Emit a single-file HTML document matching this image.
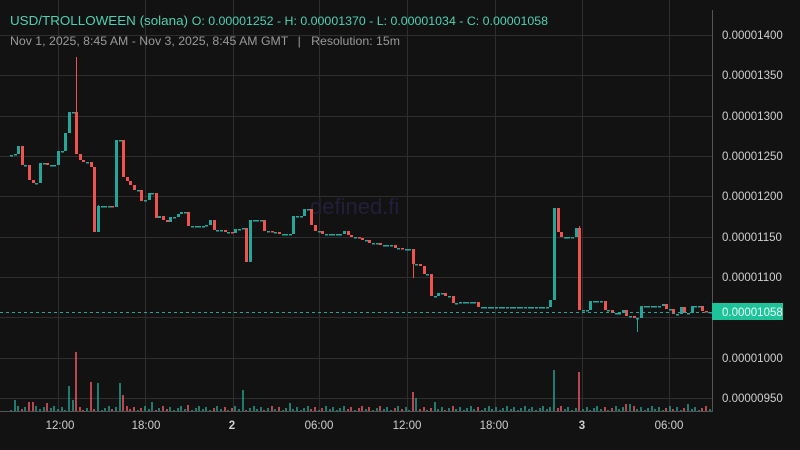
<!DOCTYPE html>
<html><head><meta charset="utf-8"><style>
body{margin:0;background:#121212;width:800px;height:450px;overflow:hidden;font-family:"Liberation Sans",sans-serif}
svg{display:block}
</style></head><body>
<svg id="s" width="800" height="450" xmlns="http://www.w3.org/2000/svg">
<rect width="800" height="450" fill="#121212"/>
<g stroke="#2e2e2e" stroke-width="1">
<line x1="0" y1="35.5" x2="712" y2="35.5"/><line x1="0" y1="75.5" x2="712" y2="75.5"/><line x1="0" y1="116.5" x2="712" y2="116.5"/><line x1="0" y1="156.5" x2="712" y2="156.5"/><line x1="0" y1="196.5" x2="712" y2="196.5"/><line x1="0" y1="237.5" x2="712" y2="237.5"/><line x1="0" y1="277.5" x2="712" y2="277.5"/><line x1="0" y1="317.5" x2="712" y2="317.5"/><line x1="0" y1="358.5" x2="712" y2="358.5"/><line x1="0" y1="398.5" x2="712" y2="398.5"/>
<line x1="58.5" y1="0" x2="58.5" y2="412"/><line x1="145.5" y1="0" x2="145.5" y2="412"/><line x1="233.5" y1="0" x2="233.5" y2="412"/><line x1="319.5" y1="0" x2="319.5" y2="412"/><line x1="407.5" y1="0" x2="407.5" y2="412"/><line x1="495.5" y1="0" x2="495.5" y2="412"/><line x1="582.5" y1="0" x2="582.5" y2="412"/><line x1="669.5" y1="0" x2="669.5" y2="412"/>
</g>
<line x1="712.5" y1="10" x2="712.5" y2="412" stroke="#555"/>
<line x1="0" y1="411.5" x2="712" y2="411.5" stroke="#555"/>
<text x="310" y="214" font-size="22" fill="#221f3a">defined.fi</text>
<g id="c"></g>
<line x1="0" y1="312.5" x2="712" y2="312.5" stroke="#26a69a" stroke-dasharray="3,3"/>
<g font-size="11.5" fill="#cfcfcf">
<text x="722" y="39">0.00001400</text><text x="722" y="79">0.00001350</text><text x="722" y="120">0.00001300</text><text x="722" y="160">0.00001250</text><text x="722" y="200">0.00001200</text><text x="722" y="241">0.00001150</text><text x="722" y="281">0.00001100</text><text x="722" y="362">0.00001000</text><text x="722" y="402">0.00000950</text>
</g>
<rect x="712" y="303" width="71" height="17" fill="#1fc39a"/>
<text x="722" y="316" font-size="11.5" fill="#e8fff8">0.00001058</text>
<g font-size="11.5" fill="#cfcfcf" text-anchor="middle">
<text x="60" y="429">12:00</text><text x="146" y="429">18:00</text><text x="232" y="429" font-weight="bold">2</text><text x="319" y="429">06:00</text><text x="407" y="429">12:00</text><text x="494" y="429">18:00</text><text x="582" y="429" font-weight="bold">3</text><text x="669" y="429">06:00</text>
</g>
<text x="10" y="25" font-size="13" fill="#4fd1b0" textLength="538" lengthAdjust="spacingAndGlyphs">USD/TROLLOWEEN (solana) <tspan font-size="12">O: 0.00001252 - H: 0.00001370 - L: 0.00001034 - C: 0.00001058</tspan></text>
<text x="10" y="45" font-size="12" fill="#9a9a9a" textLength="390" lengthAdjust="spacingAndGlyphs">Nov 1, 2025, 8:45 AM - Nov 3, 2025, 8:45 AM GMT  <tspan dx="6">|</tspan><tspan dx="10">Resolution: 15m</tspan></text>
</svg>
<script>
var K=[[10,155],[13,154],[17,146],[21,165],[28,180],[32,183],[40,163],[44,163],[48,165],[56,151],[64,133],[68,112],[76,154],[80,160],[84,162],[88,167],[94,232],[98,206],[110,207],[114,140],[122,177],[126,181],[130,185],[133,190],[141,201],[145,200],[149,193],[153,218],[157,216],[161,220],[165,222],[169,217],[177,214],[181,212],[186,226],[205,225],[209,220],[213,230],[222,232],[230,233],[235,229],[240,228],[245,262],[250,220],[265,231],[272,232],[278,234],[291,216],[305,209],[309,225],[313,231],[320,234],[342,231],[345,235],[350,237],[358,238],[362,240],[370,243],[378,245],[395,248],[400,249],[412,264],[418,266],[422,274],[430,296],[437,293],[445,296],[450,303],[460,302],[477,307],[520,307],[548,300],[553,208],[556,232],[562,237],[575,228],[580,310],[590,301],[604,310],[610,313],[620,310],[625,316],[632,318],[639,306],[660,304],[665,309],[672,314],[680,307],[685,313],[690,306],[700,311],[705,312]];
var W={76:57,21:158,412:278,636:332,98:205,579:226};
var sp={68:386,72:400,76:352,88:382,96:383,118:383,122:395,241:390,412:392,415:398,553:370,580:372,14:400,30:402,47:403,152:402,187:405,290:403,432:402,624:404,630:404,686:404};
var g=document.getElementById('c'),h='',prev=155,n=0;
for(var i=0;i<194;i++){var x=10+i*3.62;var y=prev;for(var k=0;k<K.length;k++){if(K[k][0]<=x+1.8)y=K[k][1];}
 var o=prev,c=y,up=c<=o,col=up?'#26a69a':'#ef5350';
 var t=Math.min(o,c),b=Math.max(o,c);if(b-t<1.5){b=t+1.5;}
 var xi=Math.round(x);
 for(var w in W){if(Math.abs(w-x)<1.9){var wy=W[w];h+='<line x1="'+(xi+1.5)+'" x2="'+(xi+1.5)+'" y1="'+Math.min(wy,t)+'" y2="'+Math.max(wy,b)+'" stroke="'+col+'"/>';}}
 h+='<rect x="'+xi+'" y="'+t+'" width="3" height="'+(b-t)+'" fill="'+col+'"/>';
 var vy=410-((i*37)%5);for(var s in sp){if(Math.abs(s-x)<1.9)vy=sp[s];}
 var vc=up?'#1f8f80':'#d8505a';
 h+='<rect x="'+xi+'" y="'+vy+'" width="2" height="'+(411-vy)+'" fill="'+vc+'" opacity="0.85"/>';
 prev=y;}
g.innerHTML=h;
</script>
</body></html>
